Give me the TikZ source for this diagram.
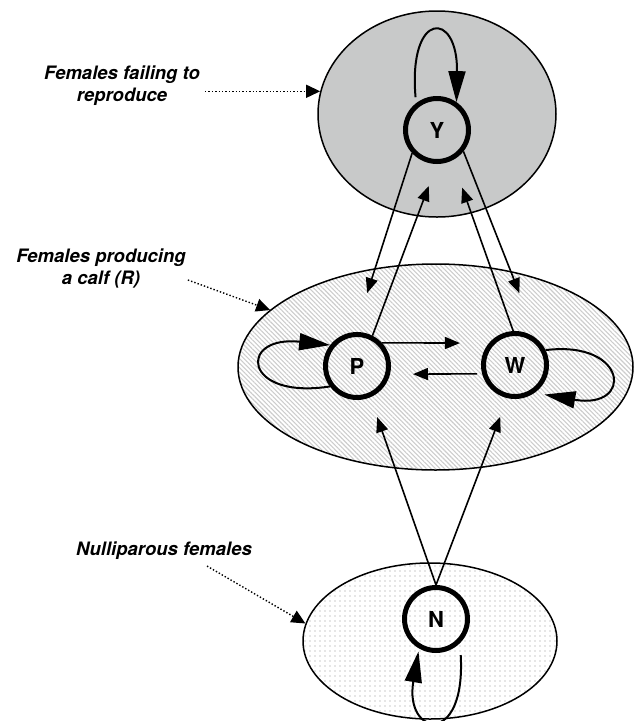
\documentclass[tikz,border=0pt]{standalone}
\usepackage{fontspec}
\newfontfamily\heros{TeX Gyre Heros}
\usepackage{tikz}
\usetikzlibrary{positioning, arrows.meta, shapes.geometric, patterns.meta}
\definecolor{grpgray}{HTML}{C8C9C9}

\begin{document}
\begin{tikzpicture}[x=1pt, y=-1pt, every node/.style={inner sep=0pt},
  group/.style={ellipse, draw, line width=1.5pt},
  state/.style={circle, draw, line width=5pt, minimum size=63pt, font=\heros\bfseries\fontsize{22}{22}\selectfont},
  lab/.style={align=center, font=\heros\bfseries\itshape\fontsize{18.5}{22}\selectfont},
  trans/.style={-{Triangle[length=15pt, width=12pt]}, line width=1.6pt},
  loopy/.style={-{Triangle[length=31pt, width=17pt]}, line width=2pt},
  pointer/.style={-{Triangle[length=14pt, width=13pt]}, dotted, line width=1.4pt}]
\useasboundingbox (0,0) rectangle (635,721);

\node[group, fill=grpgray, minimum width=238pt, minimum height=206pt] (grpY) at (437,114) {};
\node[group, pattern={Lines[angle=-45, distance=3.2pt, line width=1.1pt]}, pattern color=gray!40, minimum width=395pt, minimum height=206pt] (grpR) at (435.5,367) {};
\node[group, pattern={Dots[radius=0.8pt, distance=5pt]}, pattern color=gray!40, minimum width=254pt, minimum height=156pt] (grpN) at (430,641) {};

\node[state] (Y) at (437,130) {Y};
\node[state] (P) at (357,366) {P};
\node[state] (W) at (515,365) {W};
\node[state] (N) at (436,619) {N};

\node[lab] (labY) at (122,86) {Females failing to\\reproduce};
\node[lab] (labR) at (101,268) {Females producing\\a calf (R)};
\node[lab] (labN) at (164,551) {Nulliparous females};

\draw[trans, shorten >=41pt] (Y.223) -- (P.94);
\draw[trans, shorten >=23.5pt] (P.63) -- (Y.270);
\draw[trans, shorten >=50pt] (Y.321) -- (W.48);
\draw[trans, shorten >=29pt] (W.93) -- (Y.297);
\draw[trans, shorten >=29pt] (P.43) -- (W.140);
\draw[trans, shorten <=5pt, shorten >=23pt] (W.195) -- (P.-14);
\draw[trans, shorten >=21pt] (N.north) -- (P.293);
\draw[trans, shorten >=20pt] (N.north) -- (W.257);

\draw[loopy, shorten <=6pt] (Y.128) .. controls (408,10) and (458,10) .. (Y.55);
\draw[loopy] (P.217) .. controls (242,400) and (238,335) .. (P.142);
\draw[loopy, shorten >=10pt] (W.26) .. controls (628,340) and (634,410) .. (W.305);
\draw[loopy, shorten <=12pt, shorten >=3pt] (N.315) .. controls (466,748) and (404,736) .. (N.240);

\draw[pointer, shorten <=5pt] (labY.east |- grpY.169) -- (grpY.169);
\draw[pointer] ([xshift=2pt, yshift=-12pt]labR.east) -- (grpR.161);
\draw[pointer] ([xshift=43pt, yshift=-6pt]labN.south) -- (grpN.172);
\end{tikzpicture}
\end{document}
